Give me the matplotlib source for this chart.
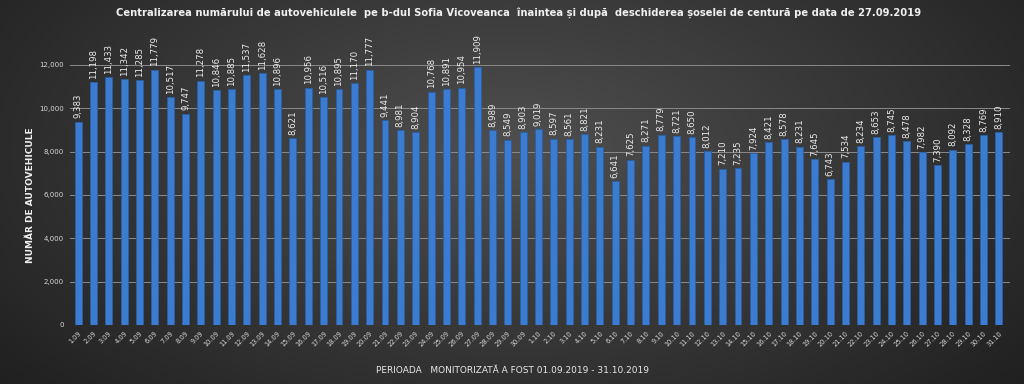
import numpy as np
import matplotlib.pyplot as plt

days = [f'{d}.09' for d in range(1, 31)] + [f'{d}.10' for d in range(1, 32)]
counts = [9383, 11198, 11433, 11342, 11285, 11779, 10517, 9747, 11278, 10846,
          10885, 11537, 11628, 10896, 8621, 10956, 10516, 10895, 11170, 11777,
          9441, 8981, 8904, 10768, 10891, 10954, 11909, 8989, 8549, 8903,
          9019, 8597, 8561, 8821, 8231, 6641, 7625, 8271, 8779, 8721,
          8650, 8012, 7210, 7235, 7924, 8421, 8578, 8231, 7645, 6743,
          7534, 8234, 8653, 8745, 8478, 7982, 7390, 8092, 8328, 8769,
          8910]
yticks = [0, 2000, 4000, 6000, 8000, 10000, 12000]

title = ('Centralizarea numărului de autovehiculele  pe b-dul Sofia Vicoveanca  '
         'înaintea și după  deschiderea șoselei de centură pe data de 27.09.2019')
xlab = 'PERIOADA   MONITORIZATĂ A FOST 01.09.2019 - 31.10.2019'
ylab = 'NUMĂR DE AUTOVEHICULE'

plt.rcParams['font.family'] = ['DejaVu Sans']

fig = plt.figure(figsize=(10.24, 3.84), dpi=100)

# dark radial background
bg = fig.add_axes([0, 0, 1, 1], zorder=-10)
yy, xx = np.mgrid[0:384, 0:1024]
r = np.sqrt(((xx - 512) / 620.0) ** 2 + ((yy - 150) / 330.0) ** 2)
shade = np.clip(0.31 - 0.17 * r, 0.11, 0.31)
bg.imshow(np.dstack([shade, shade, shade]), aspect='auto', extent=[0, 1, 0, 1])
bg.axis('off')

ax = fig.add_axes([0.068, 0.154, 0.918, 0.677])
ax.patch.set_alpha(0)
x = np.arange(len(counts))
ax.bar(x, counts, width=0.45, color='#3b7bd0', edgecolor='#2a5fa8', linewidth=0.6, zorder=3)
for xi, v in zip(x, counts):
    ax.text(xi, v + 150, f'{v:,}', rotation=90, ha='center', va='bottom',
            fontsize=6.2, color='#ececec', clip_on=False)

ax.set_xlim(-0.55, len(counts) - 0.3)
ax.set_ylim(0, 12000)
ax.set_yticks(yticks)
ax.set_yticklabels([f'{t:,}' for t in yticks], fontsize=5, color='#d8d8d8')
ax.grid(axis='y', color='#8a8a8a', linewidth=0.7, zorder=0)
ax.set_xticks(x)
ax.set_xticklabels(days, rotation=45, ha='right', fontsize=4.8, color='#d8d8d8',
                   rotation_mode='anchor')
ax.tick_params(length=0, pad=4)
for s in ax.spines.values():
    s.set_visible(False)

ax.set_ylabel(ylab, fontsize=6.5, color='#f0f0f0', fontweight='bold', labelpad=3)
fig.text(0.5, 0.035, xlab, ha='center', va='center', fontsize=6.5, color='#e8e8e8')
fig.text(0.506, 0.968, title, ha='center', va='center', fontsize=7.2,
         color='#f0f0f0', fontweight='bold')

fig.savefig('out.png', dpi=100)
